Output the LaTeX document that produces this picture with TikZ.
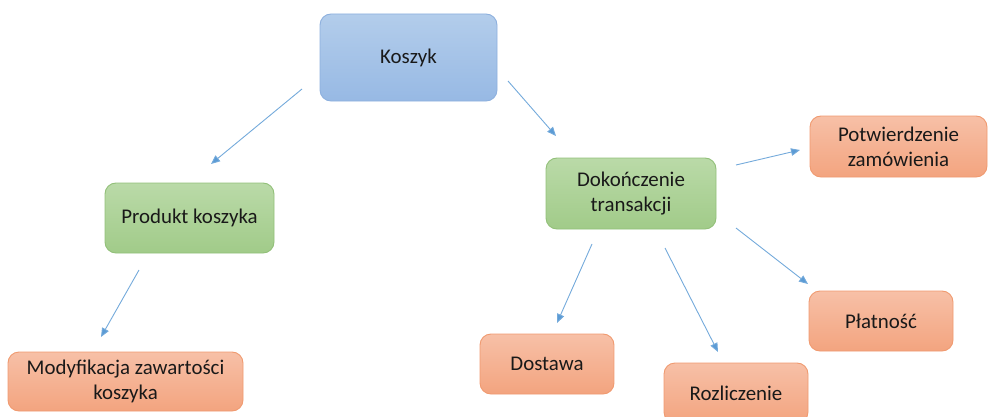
\documentclass[tikz,border=0pt]{standalone}
\usepackage{fontspec}
\setmainfont{Carlito}
\usetikzlibrary{arrows.meta,shadings}

\definecolor{blueTop}{HTML}{B3CDEB}
\definecolor{blueBot}{HTML}{97B9E4}
\definecolor{blueEdge}{HTML}{8DB0DE}
\definecolor{greenTop}{HTML}{BADAA8}
\definecolor{greenBot}{HTML}{A1CB89}
\definecolor{greenEdge}{HTML}{92C079}
\definecolor{orangeTop}{HTML}{F7C0A7}
\definecolor{orangeBot}{HTML}{F3A47F}
\definecolor{orangeEdge}{HTML}{F09A70}
\definecolor{arrowBlue}{HTML}{5B9BD5}

\tikzset{
  x=1pt, y=1pt,
  box/.style={rounded corners=11pt, line width=0.9pt, align=center,
    inner sep=0pt, font=\fontsize{20.9}{25}\selectfont, text=black!90},
  bluebox/.style={box, draw=blueEdge, top color=blueTop, bottom color=blueBot},
  greenbox/.style={box, draw=greenEdge, top color=greenTop, bottom color=greenBot},
  orangebox/.style={box, draw=orangeEdge, top color=orangeTop, bottom color=orangeBot},
  link/.style={draw=arrowBlue!85, line width=0.9pt,
    -{Triangle[length=9pt,width=7.5pt,fill=arrowBlue]}},
}

\begin{document}
\begin{tikzpicture}
\useasboundingbox (0,0) rectangle (988,416);
\clip (0,0) rectangle (988,416);

% boxes
\node[bluebox, minimum width=177pt, minimum height=87pt] (koszyk) at (408.5,358.5) {Koszyk};
\node[greenbox, minimum width=169pt, minimum height=70pt] (produkt) at (189.5,198) {Produkt koszyka};
\node[orangebox, minimum width=235pt, minimum height=59pt] (modyf) at (125.5,34.5) {Modyfikacja zawartości\\koszyka};
\node[greenbox, minimum width=170pt, minimum height=71pt] (dok) at (631,222.5) {Dokończenie\\transakcji};
\node[orangebox, minimum width=177pt, minimum height=61pt] (potw) at (898.5,269.5) {Potwierdzenie\\zamówienia};
\node[orangebox, minimum width=144pt, minimum height=60pt] (platn) at (881,95) {Płatność};
\node[orangebox, minimum width=134pt, minimum height=60pt] (dostawa) at (547,52) {Dostawa};
\node[orangebox, minimum width=144pt, minimum height=60pt] (rozl) at (736,23) {Rozliczenie};

% free-floating connector ends
\coordinate (k1) at (302,327);  \coordinate (p1) at (211,252);
\coordinate (k2) at (508,335);  \coordinate (d1) at (556,280);
\coordinate (p2) at (139,146);  \coordinate (m1) at (101,79);
\coordinate (d2) at (736,251);  \coordinate (pw1) at (800,266);
\coordinate (d3) at (592,172);  \coordinate (ds1) at (557,93);
\coordinate (d4) at (665,168);  \coordinate (r1) at (718,64);
\coordinate (d5) at (736,188);  \coordinate (pl1) at (808,132);

% connectors
\draw[link] (k1) -- (p1);
\draw[link] (k2) -- (d1);
\draw[link] (p2) -- (m1);
\draw[link] (d2) -- (pw1);
\draw[link] (d3) -- (ds1);
\draw[link] (d4) -- (r1);
\draw[link] (d5) -- (pl1);
\end{tikzpicture}
\end{document}
